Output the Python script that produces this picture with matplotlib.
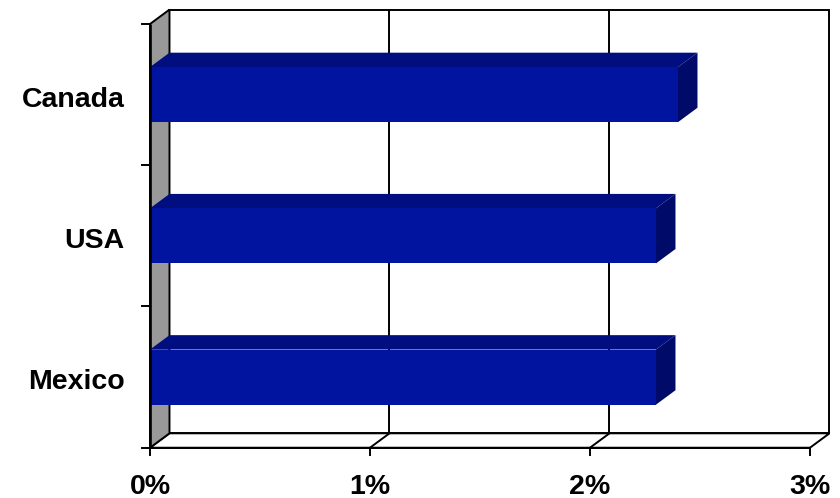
"""
Horizontal 3D-style bar chart of percentage by country.
"""
import matplotlib
matplotlib.use('Agg')
import matplotlib.pyplot as plt
from matplotlib.patches import Polygon

categories = ['Mexico', 'USA', 'Canada']
values = [2.3, 2.3, 2.4]
x_ticks = [0, 1, 2, 3]
x_tick_labels = ['0%', '1%', '2%', '3%']

# depth of the 3D box, in data units (x in percent, y in category slots)
DX = 0.0886
DY = 0.102
BAR_H = 0.39

FRONT = '#0014a0'
TOP = '#000e80'
SIDE = '#000a68'
WALL = '#999999'

plt.rcParams['font.family'] = ['Liberation Sans', 'DejaVu Sans']

fig = plt.figure(figsize=(8.4, 4.98), dpi=100)
ax = fig.add_axes([0, 0, 1, 1])
ax.set_xlim(-0.6818, 3.1364)
ax.set_ylim(-0.856, 2.670)
ax.axis('off')

x_max = x_ticks[-1]
y_lo = -0.5
y_hi = len(categories) - 0.5
lw = 1.4

# floor
floor = Polygon([(0, y_lo), (x_max, y_lo), (x_max + DX, y_lo + DY), (DX, y_lo + DY)],
                closed=True, facecolor='white', edgecolor='black', lw=lw, zorder=1)
ax.add_patch(floor)

# back wall
back = Polygon([(DX, y_lo + DY), (x_max + DX, y_lo + DY), (x_max + DX, y_hi + DY), (DX, y_hi + DY)],
               closed=True, facecolor='white', edgecolor='black', lw=lw, zorder=1)
ax.add_patch(back)

# left wall
left = Polygon([(0, y_lo), (DX, y_lo + DY), (DX, y_hi + DY), (0, y_hi)],
               closed=True, facecolor=WALL, edgecolor='black', lw=lw, zorder=2)
ax.add_patch(left)

# gridlines on back wall and floor
for t in x_ticks[1:-1]:
    ax.plot([t + DX, t + DX], [y_lo + DY, y_hi + DY], color='black', lw=lw, zorder=2)
    ax.plot([t, t + DX], [y_lo, y_lo + DY], color='black', lw=lw, zorder=2)

# bars
for i, v in enumerate(values):
    b, t = i - BAR_H / 2, i + BAR_H / 2
    top = Polygon([(0, t), (v, t), (v + DX, t + DY), (DX, t + DY)],
                  closed=True, facecolor=TOP, edgecolor='none', zorder=3)
    side = Polygon([(v, b), (v + DX, b + DY), (v + DX, t + DY), (v, t)],
                   closed=True, facecolor=SIDE, edgecolor='none', zorder=3)
    front = Polygon([(0, b), (v, b), (v, t), (0, t)],
                    closed=True, facecolor=FRONT, edgecolor='none', zorder=4)
    for p in (top, side, front):
        ax.add_patch(p)

# front axis lines
ax.plot([0, 0], [y_lo, y_hi], color='black', lw=1.9, zorder=5, solid_capstyle='butt')
ax.plot([0, x_max], [y_lo, y_lo], color='black', lw=lw, zorder=5)

# tick marks
for k in range(len(categories) + 1):
    ax.plot([-0.036, 0], [y_lo + k, y_lo + k], color='black', lw=lw, zorder=5)
for t in x_ticks:
    ax.plot([t, t], [y_lo, y_lo - 0.05], color='black', lw=lw, zorder=5)

# labels
for i, name in enumerate(categories):
    ax.text(-0.114, i - 0.035, name, ha='right', va='center',
            fontsize=20.5, fontweight='bold')
for t, lab in zip(x_ticks, x_tick_labels):
    ax.text(t, -0.775, lab, ha='center', va='center', fontsize=20.5, fontweight='bold')

fig.savefig('out.png', dpi=100)
